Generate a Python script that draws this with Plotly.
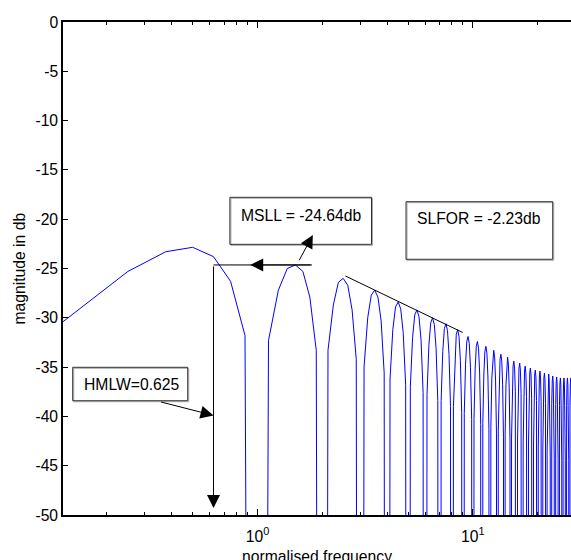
import numpy as np
import plotly.graph_objects as go

# Spectrum magnitude (dB), sampled every 1/8 of a bin starting at 0.125.
# Every 8th sample is an exact null (numerical floor).
magnitude_db = [
    -30.4, -25.3, -23.3, -22.85, -23.8, -26.3, -31.8, -300.0,
    -32.3, -27.2, -25.0, -24.64, -25.3, -27.9, -33.3, -300.0,
    -33.3, -28.7, -26.4, -26.0, -26.7, -29.2, -34.2, -300.0,
    -35.0, -30.0, -27.7, -27.2, -27.9, -30.3, -35.6, -300.0,
    -36.2, -31.2, -28.9, -28.4, -29.1, -31.5, -36.8, -300.0,
    -37.0, -32.0, -29.7, -29.2, -29.9, -32.3, -37.6, -300.0,
    -37.8, -32.8, -30.5, -30.0, -30.7, -33.1, -38.4, -300.0,
    -38.4, -33.4, -31.1, -30.6, -31.3, -33.7, -39.0, -300.0,
    -39.0, -34.0, -31.7, -31.2, -31.9, -34.3, -39.6, -300.0,
    -39.7, -34.7, -32.4, -31.9, -32.6, -35.0, -40.3, -300.0,
    -40.2, -35.2, -32.9, -32.4, -33.1, -35.5, -40.8, -300.0,
    -40.7, -35.7, -33.4, -32.9, -33.6, -36.0, -41.3, -300.0,
    -41.1, -36.1, -33.8, -33.3, -34.0, -36.4, -41.7, -300.0,
    -41.5, -36.5, -34.2, -33.7, -34.4, -36.8, -42.1, -300.0,
    -41.8, -36.8, -34.5, -34.0, -34.7, -37.1, -42.4, -300.0,
    -42.2, -37.2, -34.9, -34.4, -35.1, -37.5, -42.8, -300.0,
    -42.4, -37.4, -35.1, -34.6, -35.3, -37.7, -43.0, -300.0,
    -42.7, -37.7, -35.4, -34.9, -35.6, -38.0, -43.3, -300.0,
    -42.9, -37.9, -35.6, -35.1, -35.8, -38.2, -43.5, -300.0,
    -43.1, -38.1, -35.8, -35.3, -36.0, -38.4, -43.7, -300.0,
    -43.2, -38.2, -35.9, -35.4, -36.1, -38.5, -43.8, -300.0,
    -43.4, -38.4, -36.1, -35.6, -36.3, -38.7, -44.0, -300.0,
    -43.5, -38.5, -36.2, -35.7, -36.4, -38.8, -44.1, -300.0,
    -43.7, -38.7, -36.4, -35.9, -36.6, -39.0, -44.3, -300.0,
    -43.8, -38.8, -36.5, -36.0, -36.7, -39.1, -44.4, -300.0,
    -43.9, -38.9, -36.6, -36.1, -36.8, -39.2, -44.5, -300.0,
    -43.9, -38.9, -36.6, -36.1, -36.8, -39.2, -44.5, -300.0,
    -43.9, -38.9, -36.6, -36.1, -36.8, -39.2, -44.5, -300.0,
    -43.9, -38.9, -36.6, -36.1, -36.8, -39.2, -44.5, -300.0,
]
freq_step = 0.125
frequency = freq_step * np.arange(1, len(magnitude_db) + 1)

# Measured quantities
msll_db = -24.64
hmlw = 0.625
slfor_db = -2.23

# Side-lobe fall-off guide line (endpoints on the lobe peaks)
falloff_x = [2.56, 8.97]
falloff_y = [-25.76, -31.49]

y_ticks = [0, -5, -10, -15, -20, -25, -30, -35, -40, -45, -50]
x_ticks = [1, 10]
x_ticktext = ["10<sup>0</sup>", "10<sup>1</sup>"]
x_minor = [0.2, 0.3, 0.4, 0.5, 0.6, 0.7, 0.8, 0.9,
           2, 3, 4, 5, 6, 7, 8, 9, 20]

FONT = "Arial, Liberation Sans, Helvetica, sans-serif"
FS = 15.7

fig = go.Figure()

fig.add_trace(go.Scatter(
    x=frequency, y=magnitude_db, mode="lines",
    line=dict(color="#0000ff", width=1), showlegend=False, hoverinfo="skip",
))

# Level line at the maximum side-lobe level, from the main-lobe edge
fig.add_trace(go.Scatter(
    x=[hmlw, 1.79], y=[msll_db, msll_db], mode="lines",
    line=dict(color="black", width=1), showlegend=False, hoverinfo="skip",
))

# Fall-off guide
fig.add_trace(go.Scatter(
    x=falloff_x, y=falloff_y, mode="lines",
    line=dict(color="black", width=1), showlegend=False, hoverinfo="skip",
))

lg = np.log10


def arrow(x_tip, y_tip, x_tail, y_tail):
    fig.add_annotation(
        x=lg(x_tip), y=y_tip, ax=lg(x_tail), ay=y_tail,
        xref="x", yref="y", axref="x", ayref="y",
        text="", showarrow=True, arrowhead=2, arrowsize=2.6,
        arrowwidth=1, arrowcolor="black", standoff=0,
    )


arrow(0.925, msll_db, 1.79, msll_db)          # leftward arrow on level line
arrow(hmlw, -49.3, hmlw, msll_db)             # vertical half-width marker
arrow(1.807, -21.6, 1.549, -24.31)            # MSLL label pointer
arrow(hmlw, -39.9, 0.3508, -38.5)             # HMLW label pointer

# Text boxes (paper coordinates of the plot area)
boxes = [
    (0.3285, 0.549, 0.6073, 0.6444),
    (0.6752, 0.5187, 0.9640, 0.6355),
    (0.0191, 0.2318, 0.2455, 0.2996),
]
for x0, y0, x1, y1 in boxes:
    fig.add_shape(type="rect", xref="paper", yref="paper",
                  x0=x0 + 0.002, y0=y0 - 0.002, x1=x1 + 0.002, y1=y1 - 0.002,
                  line=dict(color="#a8a8a8", width=1), layer="above")
    fig.add_shape(type="rect", xref="paper", yref="paper",
                  x0=x0, y0=y0, x1=x1, y1=y1,
                  line=dict(color="#303030", width=1),
                  fillcolor="rgba(0,0,0,0)", layer="above")

labels = [
    (0.3465, 0.6085, f"MSLL = {msll_db:.2f}db"),
    (0.6929, 0.6018, f"SLFOR = {slfor_db:.2f}db"),
    (0.0368, 0.2657, f"HMLW={hmlw:g}"),
]
for x, y, t in labels:
    fig.add_annotation(x=x, y=y, xref="paper", yref="paper", text=t,
                       showarrow=False, xanchor="left", yanchor="middle",
                       font=dict(family=FONT, size=FS, color="black"))

# Axis titles
fig.add_annotation(x=-0.0866, y=0.5, xref="paper", yref="paper",
                   text="magnitude in db", textangle=-90, showarrow=False,
                   xanchor="center", yanchor="middle",
                   font=dict(family=FONT, size=FS, color="black"))
fig.add_annotation(x=0.5, y=-0.084, xref="paper", yref="paper",
                   text="normalised frequency", showarrow=False,
                   xanchor="center", yanchor="middle",
                   font=dict(family=FONT, size=FS, color="black"))

fig.update_xaxes(
    type="log", range=[lg(0.125), lg(28.56)],
    tickmode="array", tickvals=x_ticks, ticktext=x_ticktext,
    ticks="inside", ticklen=6, tickcolor="black", tickwidth=1,
    ticklabelstandoff=6,
    minor=dict(tickmode="array", tickvals=x_minor, ticks="inside",
               ticklen=3.5, tickcolor="black", showgrid=False),
    showline=True, linecolor="black", linewidth=1.5, mirror="ticks",
    showgrid=False, zeroline=False,
    tickfont=dict(family=FONT, size=FS, color="black"),
)
fig.update_yaxes(
    range=[-50, 0], tickmode="array", tickvals=y_ticks,
    ticktext=[str(v) for v in y_ticks],
    ticks="inside", ticklen=5, tickcolor="black", tickwidth=1,
    showline=True, linecolor="black", linewidth=1.5, mirror=False,
    showgrid=False, zeroline=False,
    tickfont=dict(family=FONT, size=FS, color="black"),
)

fig.update_layout(
    width=571, height=560, autosize=False,
    margin=dict(l=63, r=0, t=22, b=45, pad=0),
    paper_bgcolor="white", plot_bgcolor="white",
    showlegend=False,
)

fig.write_html("out.html")
